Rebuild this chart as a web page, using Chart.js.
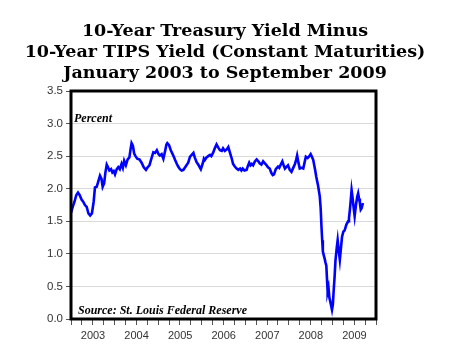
<!DOCTYPE html>
<html>
<head>
<meta charset="utf-8">
<script src="https://cdn.jsdelivr.net/npm/chart.js@4"></script>
<style>
    html, body { margin: 0; padding: 0; background: #fff; }
    #wrap { width: 450px; height: 361px; }
</style>
</head>
<body>
<div id="wrap"><canvas id="myChart"></canvas></div>
<script>
// decimal years (2003 = Jan 2003)
const dates = [
    2003.00, 2003.04, 2003.08, 2003.12, 2003.16, 2003.20, 2003.245, 2003.28, 2003.32, 2003.36,
    2003.40, 2003.44, 2003.48, 2003.52, 2003.55, 2003.59, 2003.63, 2003.665, 2003.70, 2003.727,
    2003.76, 2003.79, 2003.82, 2003.85, 2003.88, 2003.92, 2003.95, 2003.98, 2004.01, 2004.05,
    2004.085, 2004.12, 2004.16, 2004.19, 2004.22, 2004.26, 2004.30, 2004.34, 2004.37, 2004.39,
    2004.42, 2004.45, 2004.48, 2004.52, 2004.57, 2004.62, 2004.67, 2004.72, 2004.76, 2004.80,
    2004.84, 2004.89, 2004.93, 2004.97, 2005.01, 2005.04, 2005.08, 2005.12, 2005.16, 2005.19,
    2005.21, 2005.25, 2005.29, 2005.34, 2005.39, 2005.43, 2005.46, 2005.50, 2005.54, 2005.58,
    2005.62, 2005.65, 2005.69, 2005.73, 2005.77, 2005.81, 2005.84, 2005.88, 2005.93, 2005.98,
    2006.02, 2006.05, 2006.07, 2006.11, 2006.15, 2006.19, 2006.22, 2006.26, 2006.30, 2006.34,
    2006.38, 2006.42, 2006.46, 2006.49, 2006.53, 2006.57, 2006.61, 2006.65, 2006.69, 2006.72,
    2006.76, 2006.80, 2006.84, 2006.88, 2006.91, 2006.94, 2006.98, 2007.03, 2007.06, 2007.09,
    2007.12, 2007.15, 2007.18, 2007.22, 2007.26, 2007.30, 2007.33, 2007.37, 2007.41, 2007.45,
    2007.49, 2007.52, 2007.56, 2007.60, 2007.63, 2007.66, 2007.70, 2007.75, 2007.78, 2007.82,
    2007.85, 2007.88, 2007.91, 2007.95, 2007.98, 2008.02, 2008.06, 2008.10, 2008.14, 2008.17,
    2008.19, 2008.22, 2008.25, 2008.29, 2008.33, 2008.36, 2008.39, 2008.43, 2008.47, 2008.50,
    2008.53, 2008.56, 2008.60, 2008.63, 2008.67, 2008.71, 2008.73, 2008.75, 2008.765, 2008.78,
    2008.80, 2008.82, 2008.84, 2008.86, 2008.88, 2008.89, 2008.91, 2008.93, 2008.96, 2008.99,
    2009.01, 2009.03, 2009.05, 2009.07, 2009.10, 2009.12, 2009.145, 2009.17, 2009.20, 2009.22,
    2009.25, 2009.28, 2009.32, 2009.36, 2009.38, 2009.40, 2009.42, 2009.44, 2009.46, 2009.48,
    2009.51, 2009.54, 2009.57, 2009.59, 2009.61, 2009.63, 2009.65, 2009.67, 2009.70
];

// 10-yr treasury minus 10-yr TIPS, percent
const spread = [
    1.63, 1.72, 1.80, 1.90, 1.94, 1.90, 1.83, 1.80, 1.75, 1.72,
    1.62, 1.59, 1.62, 1.80, 2.02, 2.03, 2.12, 2.20, 2.15, 2.03,
    2.08, 2.25, 2.37, 2.33, 2.28, 2.30, 2.25, 2.27, 2.22, 2.30,
    2.33, 2.30, 2.38, 2.32, 2.43, 2.36, 2.45, 2.48, 2.62, 2.70,
    2.66, 2.54, 2.50, 2.46, 2.45, 2.40, 2.33, 2.29, 2.33, 2.36,
    2.45, 2.56, 2.55, 2.59, 2.53, 2.51, 2.53, 2.46, 2.58, 2.68,
    2.70, 2.67, 2.59, 2.52, 2.44, 2.38, 2.34, 2.30, 2.28, 2.29,
    2.33, 2.36, 2.40, 2.49, 2.52, 2.55, 2.48, 2.41, 2.36, 2.30,
    2.38, 2.46, 2.44, 2.48, 2.50, 2.52, 2.50, 2.55, 2.62, 2.68,
    2.63, 2.59, 2.58, 2.62, 2.58, 2.60, 2.64, 2.55, 2.46, 2.38,
    2.34, 2.31, 2.29, 2.31, 2.28, 2.31, 2.28, 2.29, 2.35, 2.40,
    2.36, 2.38, 2.36, 2.42, 2.45, 2.42, 2.39, 2.37, 2.42, 2.39,
    2.36, 2.33, 2.31, 2.24, 2.21, 2.22, 2.30, 2.34, 2.32, 2.38,
    2.42, 2.36, 2.31, 2.34, 2.36, 2.29, 2.26, 2.32, 2.38, 2.45,
    2.51, 2.40, 2.31, 2.32, 2.31, 2.40, 2.49, 2.47, 2.50, 2.53,
    2.49, 2.44, 2.30, 2.18, 2.05, 1.88, 1.70, 1.40, 1.21, 1.04,
    0.98, 0.93, 0.87, 0.82, 0.55, 0.42, 0.48, 0.33, 0.24, 0.14,
    0.22, 0.45, 0.65, 0.90, 1.10, 1.21, 1.05, 0.91, 1.12, 1.26,
    1.34, 1.36, 1.45, 1.50, 1.55, 1.67, 1.82, 1.98, 1.88, 1.75,
    1.58, 1.75, 1.88, 1.93, 1.85, 1.78, 1.68, 1.70, 1.78
];

const yTicks = [0, 0.5, 1.0, 1.5, 2.0, 2.5, 3.0, 3.5];
const years = [2003, 2004, 2005, 2006, 2007, 2008, 2009];

const titleLines = [
    '10-Year Treasury Yield Minus',
    '10-Year TIPS Yield (Constant Maturities)',
    'January 2003 to September 2009'
];
const unitNote = 'Percent';
const sourceNote = 'Source: St. Louis Federal Reserve';

// frame + notes inside the plot
const framePlugin = {
    id: 'frame',
    afterDatasetsDraw(chart) {
        const { ctx, chartArea: a } = chart;
        ctx.save();
        ctx.fillStyle = '#000';
        ctx.font = 'italic bold 12px "Liberation Serif"';
        ctx.textBaseline = 'alphabetic';
        ctx.fillText(unitNote, a.left + 3, a.top + 31);
        ctx.fillText(sourceNote, a.left + 7, a.bottom - 5);
        ctx.strokeStyle = '#000';
        ctx.lineWidth = 3;
        ctx.strokeRect(a.left, a.top, a.right - a.left, a.bottom - a.top);
        ctx.restore();
    }
};

const ctx = document.querySelector('#myChart');
const myChart = new Chart(ctx, {
    type: 'line',
    data: {
        datasets: [
            {
                data: dates.map((d, i) => ({ x: d, y: spread[i] })),
                borderColor: '#0000ff',
                borderWidth: 2.6,
                pointRadius: 0,
                tension: 0,
                fill: false,
            },
        ],
    },
    options: {
        responsive: true,
        maintainAspectRatio: false,
        animation: false,
        layout: {
            padding: 0
        },
        scales: {
            x: {
                type: 'linear',
                min: 2003,
                max: 2010,
                afterBuildTicks: (scale) => {
                    const t = [];
                    for (let q = 0; q <= 28; q++) t.push({ value: 2003 + q * 0.25 });
                    scale.ticks = t;
                },
                afterFit: (scale) => { scale.height = 42; },
                border: { display: false },
                grid: {
                    drawOnChartArea: false,
                    tickLength: 6,
                    tickColor: '#555',
                    tickWidth: 1,
                },
                ticks: {
                    autoSkip: false,
                    maxRotation: 0,
                    minRotation: 0,
                    padding: 4,
                    labelOffset: 22,
                    color: '#333',
                    font: { family: '"Liberation Sans"', size: 11 },
                    callback: (v) => years.includes(v) ? String(v) : '',
                },
            },
            y: {
                min: 0,
                max: 3.5,
                afterBuildTicks: (scale) => {
                    scale.ticks = yTicks.map(v => ({ value: v }));
                },
                afterFit: (scale) => { scale.width = 71; },
                border: { display: false },
                grid: {
                    color: '#dadada',
                    lineWidth: 1,
                    tickLength: 5,
                    tickColor: '#555',
                },
                ticks: {
                    padding: 3,
                    color: '#333',
                    font: { family: '"Liberation Sans"', size: 11.5 },
                    callback: (v) => v.toFixed(1),
                },
            },
            // empty right-hand space so the title stays centred on the page
            yRight: {
                position: 'right',
                display: true,
                afterFit: (scale) => { scale.width = 74; },
                border: { display: false },
                grid: { display: false },
                ticks: { display: false },
            },
        },
        plugins: {
            legend: { display: false },
            tooltip: { enabled: false },
            title: {
                display: true,
                text: titleLines,
                color: '#000',
                font: { family: '"DejaVu Serif"', size: 17.5, weight: 'bold', lineHeight: 1.2 },
                padding: { top: 21, bottom: 7 },
            },
        },
    },
    plugins: [framePlugin],
});
</script>
</body>
</html>
